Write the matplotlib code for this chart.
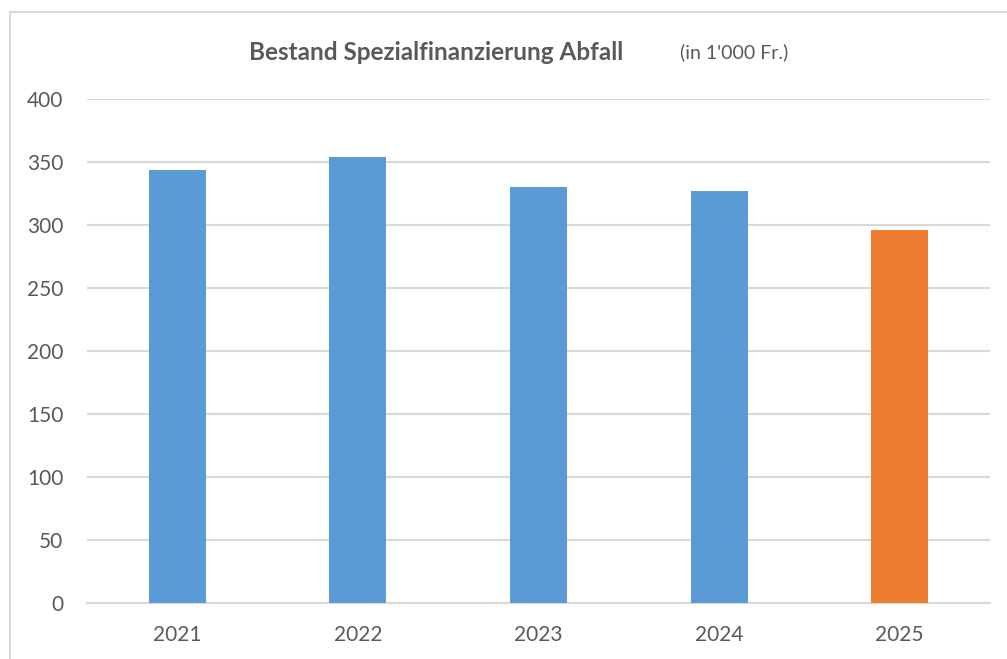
import matplotlib
matplotlib.use('Agg')
import matplotlib.pyplot as plt
import matplotlib.patches as mpatches

years = ['2021', '2022', '2023', '2024', '2025']
values = [344, 354, 330, 327, 296]
colors = ['#5b9bd5', '#5b9bd5', '#5b9bd5', '#5b9bd5', '#ed7d31']
y_ticks = [0, 50, 100, 150, 200, 250, 300, 350, 400]

TEXT = '#595959'
GRID = '#d9d9d9'

plt.rcParams['font.family'] = ['Lato', 'DejaVu Sans']

fig = plt.figure(figsize=(10.07, 6.59), dpi=100)
fig.patches.append(mpatches.Rectangle((10 / 1007, -0.1), 1.1, 1 - 12 / 659 + 0.1,
                                      transform=fig.transFigure, fill=False,
                                      edgecolor=GRID, linewidth=1.5))

ax = fig.add_axes([87 / 1007, 1 - 603 / 659, (990 - 87) / 1007, (603 - 99) / 659])
ax.bar(range(len(years)), values, width=0.315, color=colors, zorder=3)
ax.set_xlim(-0.5, len(years) - 0.5)
ax.set_ylim(0, 400)
ax.set_yticks(y_ticks)
ax.set_xticks(range(len(years)))
ax.set_xticklabels(years)
ax.yaxis.grid(True, color=GRID, linewidth=1.5, zorder=0)
ax.set_axisbelow(True)
for s in ['top', 'right', 'left']:
    ax.spines[s].set_visible(False)
ax.spines['bottom'].set_color(GRID)
ax.spines['bottom'].set_linewidth(1.5)
ax.tick_params(axis='both', length=0, labelsize=15, labelcolor=TEXT)
ax.tick_params(axis='x', pad=16)
ax.tick_params(axis='y', pad=17)

fig.text(436 / 1007, 1 - 52 / 659, 'Bestand Spezialfinanzierung Abfall', ha='center', va='center',
         fontsize=17.5, fontweight='bold', color=TEXT)
fig.text(734 / 1007, 1 - 52 / 659, "(in 1'000 Fr.)", ha='center', va='center',
         fontsize=14, color=TEXT)

fig.savefig('out.png', dpi=100)
